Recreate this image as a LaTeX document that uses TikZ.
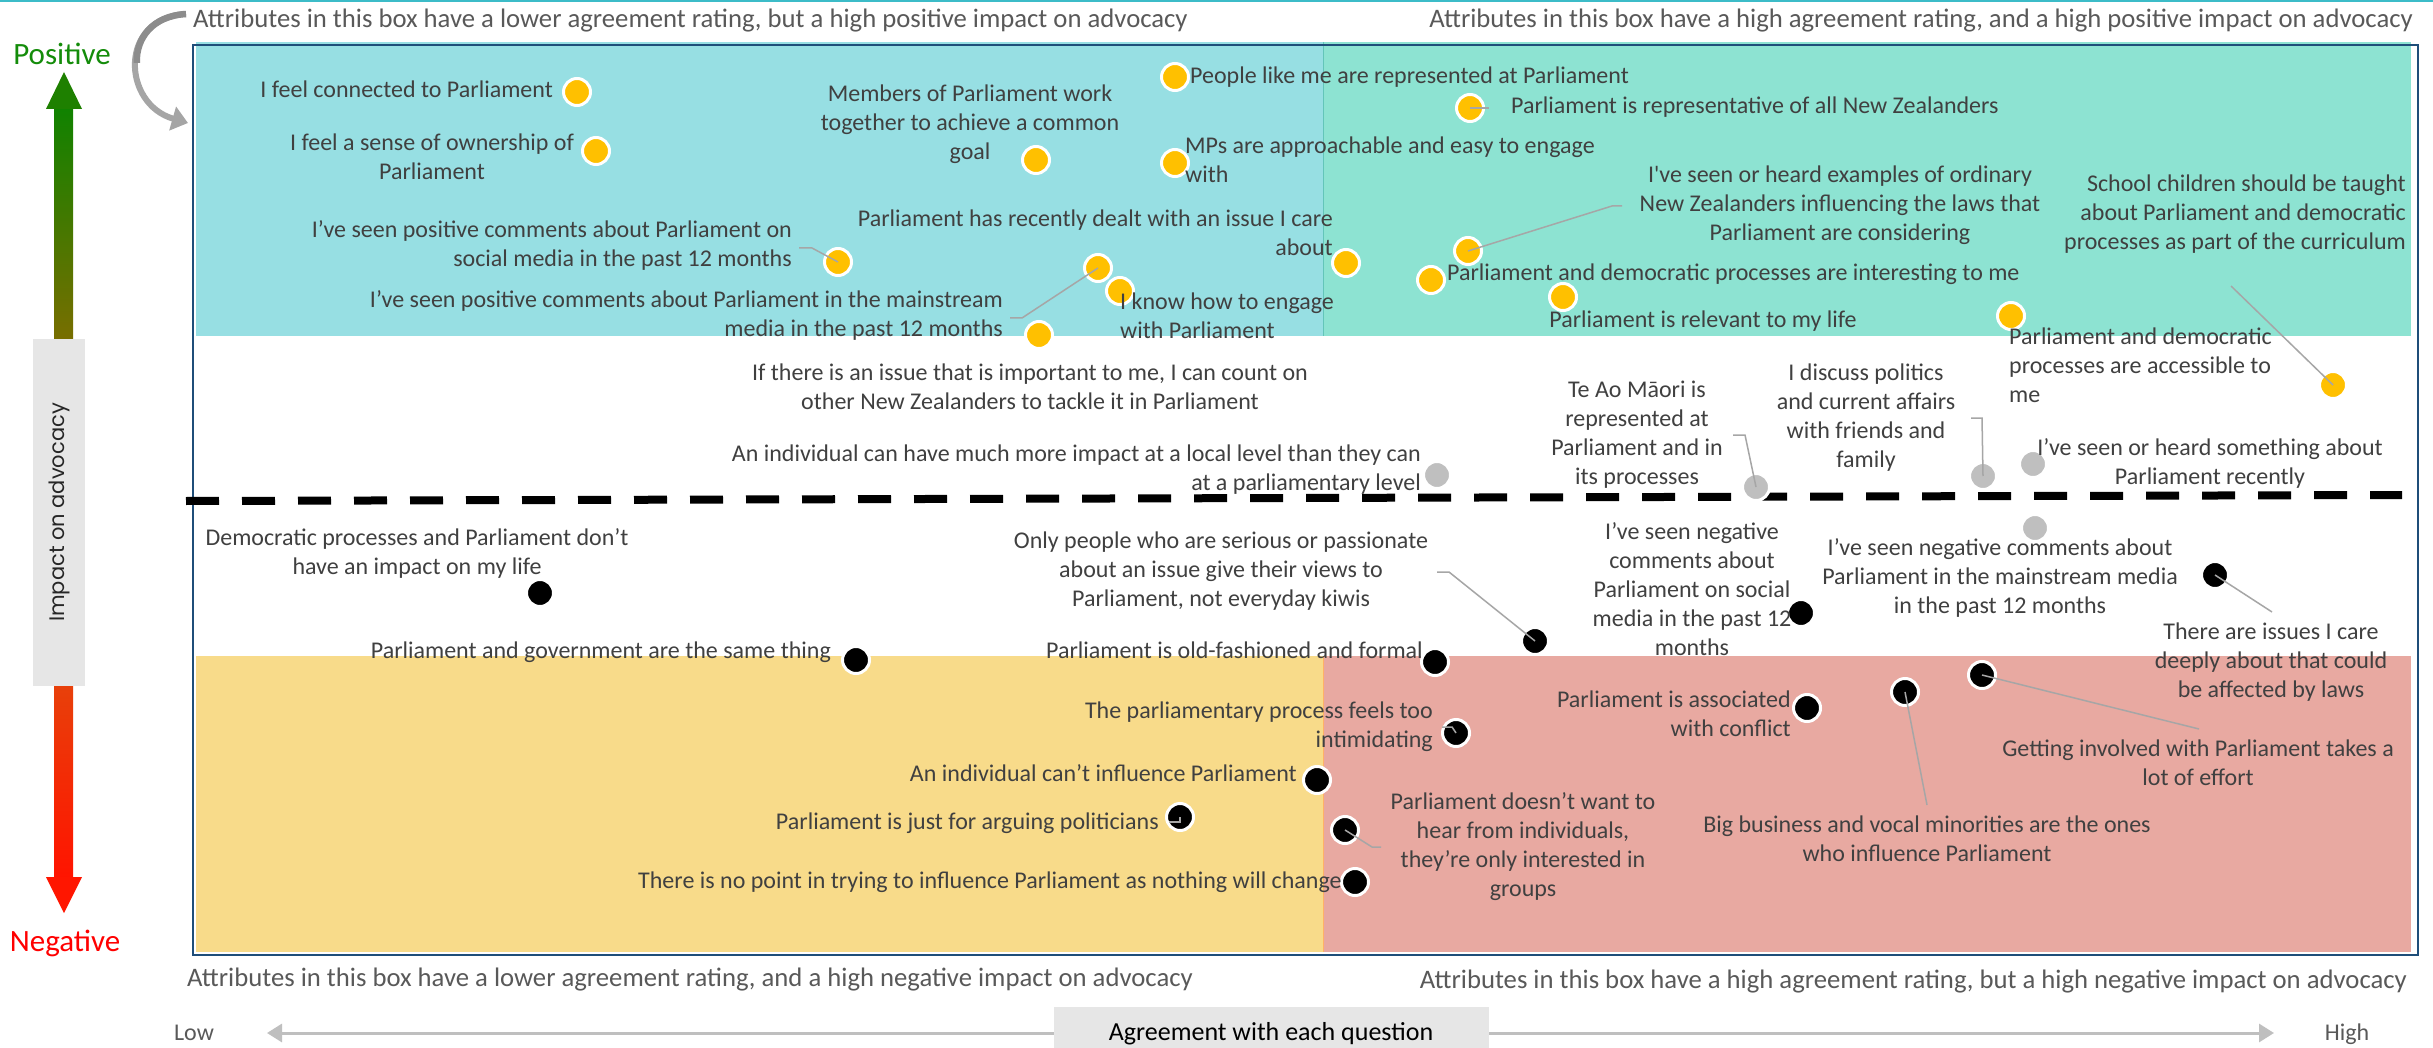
\documentclass[tikz,border=0pt]{standalone}
\usepackage{fontspec}
\setmainfont{Carlito}
\newfontfamily\gothicfont{Poppins}
\usetikzlibrary{arrows.meta}
\definecolor{qblue}{RGB}{151,223,227}
\definecolor{qgreen}{RGB}{141,227,210}
\definecolor{qyellow}{RGB}{248,219,138}
\definecolor{qpink}{RGB}{232,169,161}
\definecolor{framec}{RGB}{31,78,121}
\definecolor{toplinec}{RGB}{60,188,200}
\definecolor{dotyellow}{RGB}{255,192,0}
\definecolor{dotgrey}{RGB}{191,191,191}
\definecolor{labc}{RGB}{64,64,64}
\definecolor{capc}{RGB}{89,89,89}
\definecolor{leadc}{RGB}{166,166,166}
\definecolor{boxgrey}{RGB}{230,230,230}
\definecolor{axisgrey}{RGB}{191,191,191}
\definecolor{posgreen}{RGB}{20,140,10}
\definecolor{neggred}{RGB}{255,0,0}
\definecolor{curvegrey}{RGB}{165,165,165}
\definecolor{curvedark}{RGB}{140,140,140}
\definecolor{gtop}{RGB}{16,130,0}
\definecolor{gbot}{RGB}{120,110,0}
\definecolor{ghead}{RGB}{30,128,0}
\definecolor{rtop}{RGB}{232,64,10}
\definecolor{rbot}{RGB}{255,20,0}
\definecolor{rhead}{RGB}{255,22,0}
\definecolor{ylabc}{RGB}{38,38,38}
\newcommand{\nl}{\\\strut}
\begin{document}
\begin{tikzpicture}[x=1pt,y=-1pt,
  lab/.style={font=\fontsize{24}{29}\selectfont, text=labc, inner sep=0pt, execute at begin node=\strut},
  captext/.style={font=\fontsize{26.7}{31}\selectfont, text=capc, inner sep=0pt, execute at begin node=\strut},
  endtext/.style={font=\fontsize{24}{29}\selectfont, text=capc, inner sep=0pt, execute at begin node=\strut},
  basedot/.style={circle, draw=white, line width=3pt, minimum size=27pt, inner sep=0pt},
  ydot/.style={basedot, fill=dotyellow},
  bdot/.style={basedot, fill=black},
  gdot/.style={basedot, fill=dotgrey},
  lead/.style={draw=leadc, line width=1.5pt},
]
\useasboundingbox (0,0) rectangle (2433,1048);
\fill[white] (0,0) rectangle (2433,1048);
% top line
\fill[toplinec] (0,0) rectangle (2433,2.5);

% quadrant fills
\fill[qblue] (196,42) rectangle (1323,336);
\fill[qgreen] (1323,42) rectangle (2411,336);
\fill[qyellow] (196,656) rectangle (1323,952);
\fill[qpink] (1323,656) rectangle (2411,952);
\draw[line width=1pt, color=qgreen!70!teal] (1323,42) -- (1323,336);
\draw[line width=1pt, color=orange!60] (1323,656) -- (1323,952);
% frame
\draw[framec, line width=2.5pt] (193,45) rectangle (2418,955);

% dashed middle line
\draw[black, line width=8pt, dash pattern=on 33pt off 23pt] (186,501) -- (2402,495);

% left axis
\shade[top color=gtop, bottom color=gbot] (54,108) rectangle (73,339);
\fill[ghead] (46,109) -- (82,109) -- (64,72) -- cycle;
\shade[top color=rtop, bottom color=rbot] (54,686) rectangle (73,878);
\fill[rhead] (46,877) -- (82,877) -- (64,913) -- cycle;
\node[fill=boxgrey, minimum width=52pt, minimum height=347pt, inner sep=0pt] (ybox) at (59,512.5) {};
\node[rotate=90, font=\gothicfont\fontsize{21}{25}\selectfont, text=ylabc, inner sep=0pt] (ylab) at (ybox.center) {Impact on advocacy};
\node[font=\fontsize{31}{36}\selectfont, text=posgreen, inner sep=0pt] (pos) at (62,54) {Positive};
\node[font=\fontsize{31}{36}\selectfont, text=neggred, inner sep=0pt] (neg) at (65,943) {Negative};

% curved arrow
\coordinate (cvs) at (186,14);
\coordinate (cve) at (188,123);
\draw[curvegrey, line width=6pt, -{Triangle[length=16pt,width=24pt]}] (cvs) .. controls (118,18) and (122,104) .. (cve);
\draw[curvedark, line width=6.5pt] (cvs) .. controls (152,16) and (136,38.5) .. (136.75,62.9);

% captions
\node[captext, anchor=west] (c1) at (193,21) {Attributes in this box have a lower agreement rating, but a high positive impact on advocacy};
\node[captext, anchor=east] (c2) at (2413,21) {Attributes in this box have a high agreement rating, and a high positive impact on advocacy};
\node[captext, anchor=west] (c3) at (187,980) {Attributes in this box have a lower agreement rating, and a high negative impact on advocacy};
\node[captext, anchor=east] (c4) at (2407,982) {Attributes in this box have a high agreement rating, but a high negative impact on advocacy};

% bottom axis
\coordinate (xl) at (267,1033);
\coordinate (xr) at (2274,1033);
\draw[axisgrey, line width=3pt, {Triangle[length=15pt,width=18pt]}-{Triangle[length=15pt,width=18pt]}] (xl) -- (xr);
\node[fill=boxgrey, minimum width=435pt, minimum height=45pt, inner sep=0pt] (xbox) at (1271.5,1029.5) {};
\node[font=\fontsize{26}{31}\selectfont, text=black, inner sep=0pt, execute at begin node=\strut] (xlab) at (1271,1034) {Agreement with each question};
\node[endtext] (low) at (194,1035) {Low};
\node[endtext] (high) at (2347,1035) {High};

% ---------- dots ----------
% yellow
\node[ydot] (d1) at (577,92) {};
\node[ydot] (d2) at (596,151) {};
\node[ydot] (d3) at (838,262) {};
\node[ydot] (d5) at (1036,160) {};
\node[ydot] (d6) at (1175,77) {};
\node[ydot] (d7) at (1470,108) {};
\node[ydot] (d8) at (1175,163) {};
\node[ydot] (d4) at (1098,268) {};
\node[ydot] (d10) at (1120,291) {};
\node[ydot] (d16) at (1039,335) {};
\node[ydot] (d9) at (1346,263) {};
\node[ydot] (d11) at (1468,251) {};
\node[ydot] (d12) at (1431,280) {};
\node[ydot] (d13) at (1563,297) {};
\node[ydot] (d15) at (2011,316) {};
\node[ydot] (d14) at (2333,385) {};
% grey
\node[gdot] (g17) at (1437,475) {};
\node[gdot] (g18) at (1756,487) {};
\node[gdot] (g19) at (1983,476) {};
\node[gdot] (g20) at (2033,464) {};
\node[gdot] (g21) at (2035,528) {};
% black
\node[bdot] (e1) at (540,593) {};
\node[bdot] (e2) at (856,660) {};
\node[bdot] (e3) at (1535,641) {};
\node[bdot] (e4) at (1435,662) {};
\node[bdot] (e5) at (1801,613) {};
\node[bdot] (e6) at (2215,575) {};
\node[bdot] (e8) at (1807,708) {};
\node[bdot] (e9) at (1905,692) {};
\node[bdot] (e10) at (1982,675) {};
\node[bdot] (e11) at (1456,733) {};
\node[bdot] (e12) at (1317,780) {};
\node[bdot] (e13) at (1180,817) {};
\node[bdot] (e14) at (1345,830) {};
\node[bdot] (e15) at (1355,882) {};

% ---------- labels ----------
\node[lab, anchor=east] (t1) at (553,92) {I feel connected to Parliament};
\node[lab, align=center] (t2) at (432,161) {I feel a sense of ownership of\nl Parliament};
\node[lab, anchor=east, align=right] (t3) at (792,248) {I’ve seen positive comments about Parliament on\nl social media in the past 12 months};
\node[lab, anchor=east, align=right] (t4) at (1003,318) {I’ve seen positive comments about Parliament in the mainstream\nl media in the past 12 months};
\node[lab, align=center] (t5) at (970,127) {Members of Parliament work\nl together to achieve a common\nl goal};
\node[lab, anchor=west] (t6) at (1190,78) {People like me are represented at Parliament};
\node[lab, anchor=west] (t7) at (1511,108) {Parliament is representative of all New Zealanders};
\node[lab, anchor=west, align=left] (t8) at (1185,164) {MPs are approachable and easy to engage\nl with};
\node[lab, anchor=east, align=right] (t9) at (1333,237) {Parliament has recently dealt with an issue I care\nl about};
\node[lab, anchor=west, align=left] (t10) at (1120,320) {I know how to engage\nl with Parliament};
\node[lab, align=center] (t11) at (1840,208) {I\textquotesingle ve seen or heard examples of ordinary\nl New Zealanders influencing the laws that\nl Parliament are considering};
\node[lab, anchor=west] (t12) at (1447,275) {Parliament and democratic processes are interesting to me};
\node[lab] (t13) at (1703,322) {Parliament is relevant to my life};
\node[lab, anchor=east, align=right] (t14) at (2406,217) {School children should be taught\nl about Parliament and democratic\nl processes as part of the curriculum};
\node[lab, anchor=west, align=left] (t15) at (2009,370) {Parliament and democratic\nl processes are accessible to\nl me};
\node[lab, align=center] (t16) at (1030,391) {If there is an issue that is important to me, I can count on\nl other New Zealanders to tackle it in Parliament};
\node[lab, anchor=east, align=right] (t17) at (1421,472) {An individual can have much more impact at a local level than they can\nl at a parliamentary level};
\node[lab, align=center] (t18) at (1637,437) {Te Ao Māori is\nl represented at\nl Parliament and in\nl its processes};
\node[lab, align=center] (t19) at (1866,420) {I discuss politics\nl and current affairs\nl with friends and\nl family};
\node[lab, align=center] (t20) at (2210,466) {I’ve seen or heard something about\nl Parliament recently};

\node[lab, align=center] (b1) at (417,556) {Democratic processes and Parliament don’t\nl have an impact on my life};
\node[lab, anchor=east] (b2) at (831,653) {Parliament and government are the same thing};
\node[lab, align=center] (b3) at (1221,574) {Only people who are serious or passionate\nl about an issue give their views to\nl Parliament, not everyday kiwis};
\node[lab, anchor=east] (b4) at (1423,653) {Parliament is old-fashioned and formal};
\node[lab, align=center] (b5) at (1692,593) {I’ve seen negative\nl comments about\nl Parliament on social\nl media in the past 12\nl months};
\node[lab, align=center] (b6) at (2000,580) {I’ve seen negative comments about\nl Parliament in the mainstream media\nl in the past 12 months};
\node[lab, align=center] (b7) at (2271,665) {There are issues I care\nl deeply about that could\nl be affected by laws};
\node[lab, anchor=east, align=right] (b8) at (1791,718) {Parliament is associated\nl with conflict};
\node[lab, align=center] (b9) at (1927,843) {Big business and vocal minorities are the ones\nl who influence Parliament};
\node[lab, align=center] (b10) at (2198,767) {Getting involved with Parliament takes a\nl lot of effort};
\node[lab, anchor=east, align=right] (b11) at (1433,729) {The parliamentary process feels too\nl intimidating};
\node[lab, anchor=east] (b12) at (1297,776) {An individual can’t influence Parliament};
\node[lab, anchor=east] (b13) at (1159,824) {Parliament is just for arguing politicians};
\node[lab, align=center] (b14) at (1523,849) {Parliament doesn’t want to\nl hear from individuals,\nl they’re only interested in\nl groups};
\node[lab, anchor=east] (b15) at (1342,883) {There is no point in trying to influence Parliament as nothing will change};

% ---------- leader lines ----------
\draw[lead] ([xshift=7]t3.east) -- ++(13,0) -- (d3.center);
\draw[lead] ([xshift=7]t4.east) -- ++(12,0) -- (d4.center);
\draw[lead] (d7.center) -- ++(19,0);
\coordinate (l11) at (1622,206);
\draw[lead] (l11) -- ++(-10,0) -- (d11.center);
\coordinate (l14) at (2231,286);
\draw[lead] (l14) -- (d14.center);
\coordinate (l18) at (1733,435);
\draw[lead] (l18) -- ++(12,0) -- (g18.center);
\coordinate (l19) at (1971,418);
\draw[lead] (l19) -- ++(11,0) -- (g19.center);
\coordinate (m3) at (1437,572);
\draw[lead] (m3) -- ++(12,0) -- (e3.center);
\coordinate (m6) at (2272,612);
\draw[lead] (e6.center) -- (m6);
\coordinate (m9) at (1927,805);
\draw[lead] (e9.center) -- (m9);
\coordinate (m10) at (2199,729);
\draw[lead] (e10.center) -- (m10);
\coordinate (m11) at (1442,727);
\draw[lead] (m11) -- ++(10,0) -- (e11.center);
\coordinate (m13) at (1169,822);
\draw[lead] (m13) -- ++(11,0) -- (e13.center);
\coordinate (m14) at (1381,847);
\draw[lead] (e14.center) -- (1372,847) -- (m14);
\end{tikzpicture}
\end{document}
